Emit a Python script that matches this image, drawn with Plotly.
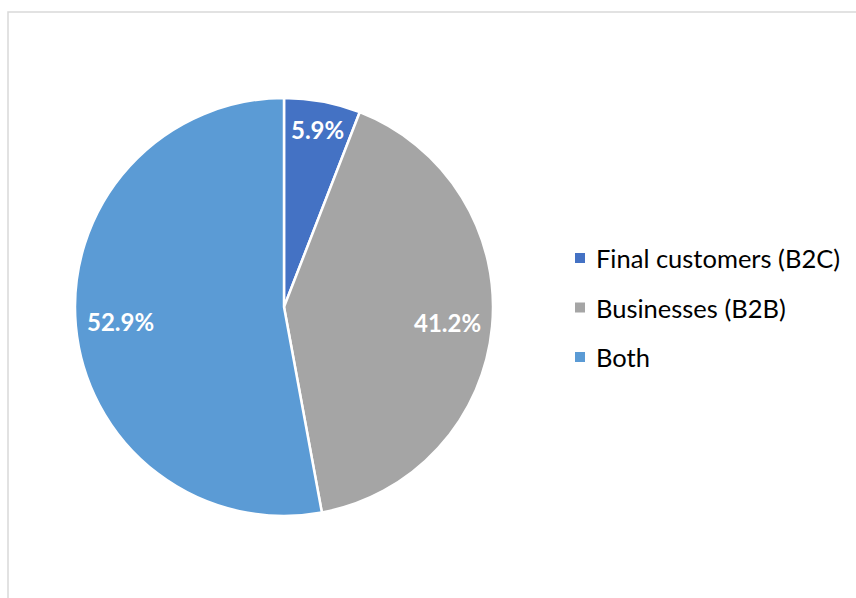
import math
import plotly.graph_objects as go

# Customer segments and their shares (%)
categories = ["Final customers (B2C)", "Businesses (B2B)", "Both"]
shares = [5.9, 41.2, 52.9]
colors = ["#4472C4", "#A5A5A5", "#5B9BD5"]

W, H = 856, 598
FONT = "Lato, 'Noto Sans', sans-serif"
LABEL_SIZE = 24

# Pie geometry in pixels (centre and radius)
cx, cy, r = 284, 307, 209

fig = go.Figure()
fig.add_trace(go.Pie(
    labels=categories,
    values=shares,
    sort=False,
    direction="clockwise",
    rotation=0,
    marker=dict(colors=colors, line=dict(color="white", width=2.5)),
    textinfo="none",
    showlegend=False,
    hoverinfo="label+value",
    domain=dict(x=[(cx - r) / W, (cx + r) / W],
                y=[(H - cy - r) / H, (H - cy + r) / H]),
))

# Outer chart border
shapes = [dict(type="rect", xref="paper", yref="paper",
               x0=8 / W, x1=(W + 20) / W, y0=-20 / H, y1=(H - 12) / H,
               line=dict(color="#D9D9D9", width=1.5), fillcolor="rgba(0,0,0,0)",
               layer="below")]
annotations = []


def inside_end(theta, hw, hh, reach):
    """Distance along the mid-angle ray so the outer corner of the label box
    sits at `reach` pixels from the centre."""
    ux, uy = math.sin(theta), -math.cos(theta)
    sx = math.copysign(hw, ux)
    sy = math.copysign(hh, uy)
    lo, hi = 0.0, reach
    for _ in range(60):
        d = (lo + hi) / 2
        if math.hypot(d * ux + sx, d * uy + sy) < reach:
            lo = d
        else:
            hi = d
    return lo * ux, lo * uy


# Percentage labels placed at the inside end of each slice
total = sum(shares)
cum = 0.0
for v in shares:
    text = f"{v:.1f}%"
    theta = 2 * math.pi * (cum + v / 2) / total
    cum += v
    hw = 0.53 * LABEL_SIZE * len(text) / 2
    hh = 0.42 * LABEL_SIZE
    dx, dy = inside_end(theta, hw, hh, r - 12)
    annotations.append(dict(xref="paper", yref="paper",
                            x=(cx + dx) / W, y=(H - cy - dy) / H,
                            xanchor="center", yanchor="middle",
                            text=text, showarrow=False,
                            font=dict(family=FONT, size=LABEL_SIZE,
                                      color="white", weight="bold")))

# Legend drawn as square markers with labels
leg_x, leg_y0, leg_dy, sq = 580, 258, 49.5, 10
for i, (name, col) in enumerate(zip(categories, colors)):
    yc = leg_y0 + i * leg_dy
    shapes.append(dict(type="rect", xref="paper", yref="paper",
                       x0=(leg_x - sq / 2) / W, x1=(leg_x + sq / 2) / W,
                       y0=(H - yc - sq / 2) / H, y1=(H - yc + sq / 2) / H,
                       line=dict(width=0), fillcolor=col))
    annotations.append(dict(xref="paper", yref="paper",
                            x=594 / W, y=(H - yc) / H,
                            xanchor="left", yanchor="middle",
                            text=name, showarrow=False,
                            font=dict(family=FONT, size=25.5, color="#000000")))

fig.update_layout(
    width=W, height=H,
    margin=dict(l=0, r=0, t=0, b=0),
    paper_bgcolor="white",
    plot_bgcolor="white",
    shapes=shapes,
    annotations=annotations,
)

fig.write_html("out.html")
